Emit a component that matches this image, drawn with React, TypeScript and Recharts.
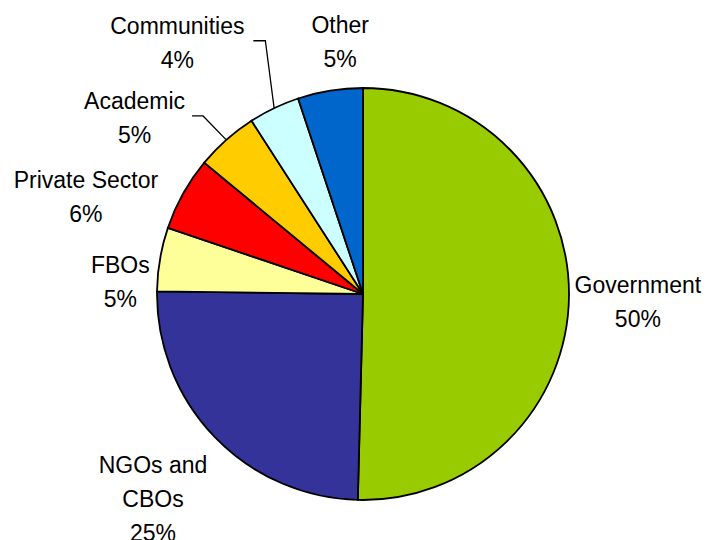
import { Cell, Pie, PieChart } from "recharts";

const categories = [
  "Government",
  "NGOs and\nCBOs",
  "FBOs",
  "Private Sector",
  "Academic",
  "Communities",
  "Other",
];
const shares = [50.4, 24.8, 5.0, 5.8, 4.9, 4.0, 5.1];
const colors = ["#99CC00", "#333399", "#FFFF99", "#FF0000", "#FFCC00", "#CCFFFF", "#0066CC"];

// label placement: extra distance beyond the rim + angle nudge (deg)
const labelDist = [69, 87.5, 37, 87.5, 82.4, 106.4, 47];
const labelShift = [-1.05, 0.4, 7.0, 9.9, 10.8, 10.9, -4.0];
// leader lines: [start x offset, elbow x offset] from label centre, or null
const leaders: ([number, number] | null)[] = [null, null, null, null, [57.5, 68.5], [76, 88], null];

const RADIAN = Math.PI / 180;
const LINE_H = 34;

const data = categories.map((name, i) => ({ name, value: shares[i] }));

const renderLabel = (props: any) => {
  const { cx, cy, midAngle, outerRadius, index, percent, name } = props;
  const ang = (midAngle + labelShift[index]) * RADIAN;
  const r = outerRadius + labelDist[index];
  const x = cx + r * Math.cos(ang);
  const y = cy - r * Math.sin(ang);
  const lines = [...String(name).split("\n"), `${Math.round(percent * 100)}%`];
  const top = y - ((lines.length - 1) * LINE_H) / 2;
  const lead = leaders[index];
  let path = null;
  if (lead) {
    const ex = cx + outerRadius * Math.cos(midAngle * RADIAN);
    const ey = cy - outerRadius * Math.sin(midAngle * RADIAN);
    const ly = y - 2;
    path = (
      <polyline
        points={`${x + lead[0]},${ly} ${x + lead[1]},${ly} ${ex},${ey}`}
        fill="none"
        stroke="#000"
        strokeWidth={1.3}
      />
    );
  }
  return (
    <g>
      {path}
      {lines.map((t, k) => (
        <text
          key={k}
          x={x}
          y={top + k * LINE_H}
          textAnchor="middle"
          dominantBaseline="central"
          fill="#000"
          fontSize={23}
          fontFamily="'Liberation Sans', Arial, sans-serif"
        >
          {t}
        </text>
      ))}
    </g>
  );
};

export default function App() {
  return (
    <div style={{ position: "absolute", left: 0, top: 0, background: "#fff" }}>
      <PieChart width={715} height={540} margin={{ top: 0, right: 0, bottom: 0, left: 0 }}>
        <Pie
          data={data}
          dataKey="value"
          nameKey="name"
          cx={363}
          cy={294}
          outerRadius={206}
          startAngle={90}
          endAngle={-270}
          stroke="#000"
          strokeWidth={1.8}
          label={renderLabel}
          labelLine={false}
          isAnimationActive={false}
        >
          {data.map((_, i) => (
            <Cell key={i} fill={colors[i]} />
          ))}
        </Pie>
      </PieChart>
    </div>
  );
}
